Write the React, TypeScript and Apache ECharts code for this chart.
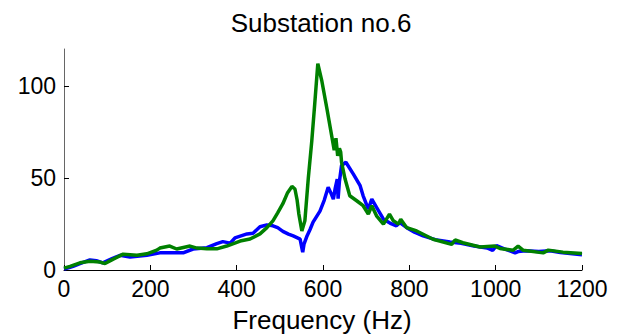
import React, { useEffect, useRef } from "react";
import * as echarts from "echarts";

const titleText = "Substation no.6";
const xAxisTitle = "Frequency (Hz)";
const xTicks = [0, 200, 400, 600, 800, 1000, 1200];
const yTicks = [0, 50, 100];

const blueFreq = [0, 14, 21, 37, 60, 75, 90, 110, 130, 153, 192, 222, 276, 299, 331, 354, 368, 385, 396, 424, 438, 454, 470, 484, 495, 507, 520, 531, 547, 551, 553, 556, 563, 570, 577, 593, 603, 612, 618, 624, 628, 633, 635, 638, 643, 653, 670, 686, 693, 705, 713, 724, 740, 755, 770, 778, 794, 812, 832, 860, 894, 920, 950, 980, 993, 1002, 1020, 1045, 1052, 1070, 1100, 1126, 1150, 1200];
const blueVal = [0.5, 1.5, 2, 3.5, 5.5, 5, 3.9, 6, 8, 7, 8, 9.3, 9.3, 11.4, 12.1, 14.3, 15.4, 14.6, 17.4, 19.6, 20, 23.5, 24.5, 24, 23, 21, 19.5, 18.5, 16.8, 12, 9.7, 14, 18.5, 22, 26, 32, 38, 44.9, 42, 38.5, 44, 49.4, 38.7, 48, 56.7, 58.5, 52.2, 45.8, 40.3, 33, 38.5, 34, 27.6, 25.5, 24, 25.7, 23, 20.5, 18.5, 16.5, 15.2, 14.5, 13, 12, 10.7, 13.2, 11.5, 9.3, 10, 10.5, 10, 10.5, 9.5, 8.3];

const greenFreq = [0, 14, 37, 60, 83, 95, 114, 137, 169, 192, 215, 222, 245, 261, 292, 308, 331, 354, 377, 408, 431, 454, 470, 484, 495, 507, 518, 528, 535, 540, 544, 551, 558, 566, 574, 581, 588, 597, 609, 620, 626, 630, 634, 638, 641, 643, 651, 662, 678, 693, 705, 713, 724, 740, 754, 763, 775, 780, 794, 817, 855, 898, 906, 924, 964, 998, 1010, 1040, 1052, 1064, 1110, 1122, 1156, 1200];
const greenVal = [1, 2, 3.9, 4.8, 4.3, 3.5, 5.9, 8.6, 8, 8.8, 10.8, 11.9, 13, 11.4, 13, 11.9, 11.5, 11.5, 13, 15.7, 16.8, 19.6, 23, 26.7, 31, 36, 42, 45.4, 44, 38, 30.5, 21.2, 26.7, 50, 70, 90.6, 112, 103, 87.7, 73, 65, 71.6, 62, 66, 64, 58.5, 49.5, 40.3, 37.6, 34.9, 30.3, 34.9, 29.4, 24.9, 30.3, 26.7, 24.9, 27.6, 23, 21.2, 16.7, 13.9, 16.3, 14.8, 12.5, 13, 11.7, 10.7, 13, 10.7, 9.3, 10.8, 9.7, 9];

const zip = (xs: number[], ys: number[]) => xs.map((x, i) => [x, ys[i]]);

export default function App() {
  const ref = useRef<HTMLDivElement>(null);
  useEffect(() => {
    if (!ref.current) return;
    const chart = echarts.init(ref.current, null, { renderer: "svg" });
    const font = "Liberation Sans, Arial, sans-serif";
    chart.setOption({
      animation: false,
      backgroundColor: "#ffffff",
      grid: { left: 64, right: 55, top: 49, bottom: 66, containLabel: false },
      graphic: [
        {
          type: "text",
          x: 321,
          y: 23,
          style: { text: titleText, font: `26px ${font}`, fill: "#000", align: "center", verticalAlign: "middle" },
        },
        {
          type: "text",
          x: 322,
          y: 320,
          style: { text: xAxisTitle, font: `26px ${font}`, fill: "#000", align: "center", verticalAlign: "middle" },
        },
      ],
      xAxis: {
        type: "value",
        min: 0,
        max: 1200,
        interval: 200,
        axisLine: { show: true, onZero: false, lineStyle: { color: "#000", width: 1 } },
        axisTick: { show: true, inside: true, length: 5, lineStyle: { color: "#000" }, customValues: xTicks },
        axisLabel: {
          show: true,
          margin: 7,
          fontSize: 23,
          fontFamily: font,
          color: "#000",
          customValues: xTicks,
          formatter: (v: number) => String(v),
        },
        splitLine: { show: false },
      },
      yAxis: {
        type: "value",
        min: 0,
        max: 120,
        interval: 50,
        axisLine: { show: true, onZero: false, lineStyle: { color: "#666", width: 1 } },
        axisTick: { show: true, inside: true, length: 5, lineStyle: { color: "#000" }, customValues: yTicks },
        axisLabel: {
          show: true,
          margin: 8,
          fontSize: 23,
          fontFamily: font,
          color: "#000",
          customValues: yTicks,
          formatter: (v: number) => String(v),
        },
        splitLine: { show: false },
      },
      series: [
        {
          type: "line",
          data: zip(blueFreq, blueVal),
          showSymbol: false,
          lineStyle: { color: "#0000ff", width: 3.5 },
          itemStyle: { color: "#0000ff" },
          z: 2,
        },
        {
          type: "line",
          data: zip(greenFreq, greenVal),
          showSymbol: false,
          lineStyle: { color: "#008000", width: 3.5 },
          itemStyle: { color: "#008000" },
          z: 3,
        },
      ],
    });
    return () => chart.dispose();
  }, []);
  return (
    <div
      ref={ref}
      style={{ position: "fixed", left: 0, top: 0, width: 637, height: 336, background: "#fff" }}
    />
  );
}
